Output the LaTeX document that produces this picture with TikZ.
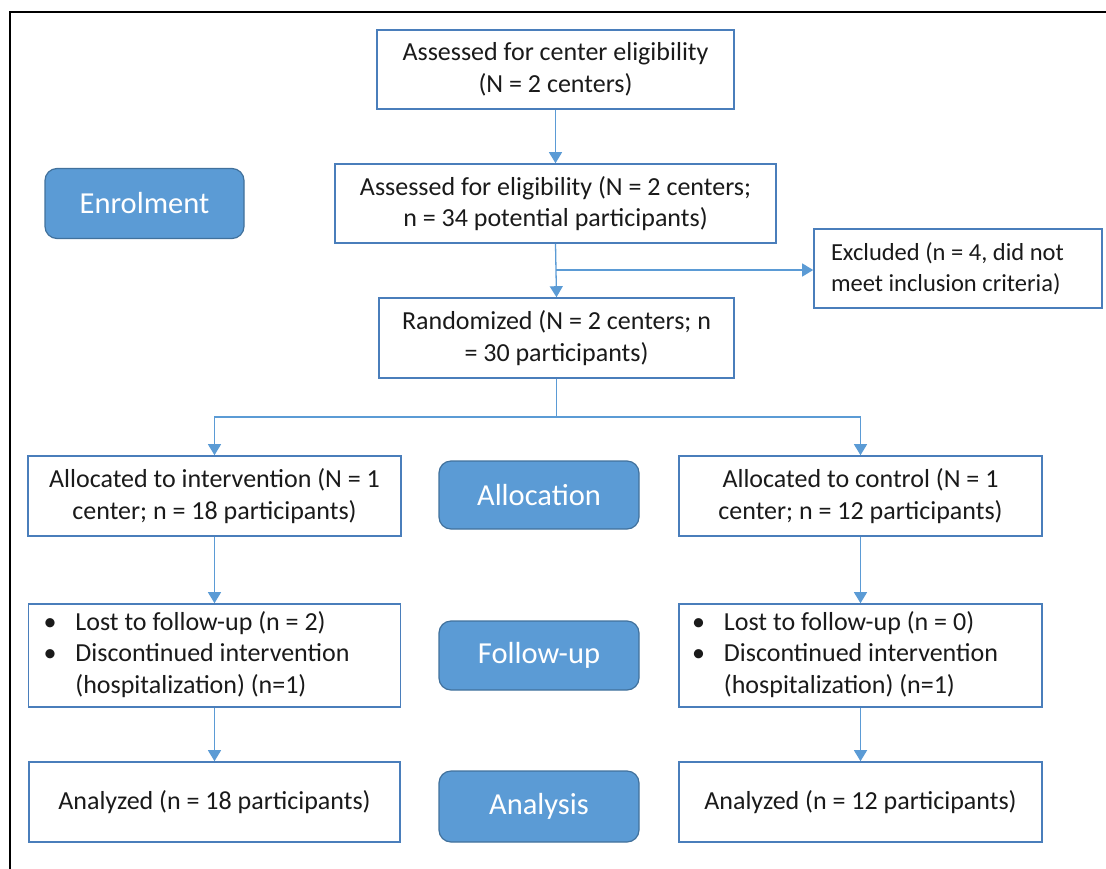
\documentclass[tikz,border=0pt]{standalone}
\usepackage{fontspec}
\setmainfont{Carlito}
\usetikzlibrary{arrows.meta}
\definecolor{boxline}{HTML}{4A7EBB}
\definecolor{conn}{HTML}{5B9BD5}
\definecolor{btnfill}{HTML}{5B9BD5}
\definecolor{btnline}{HTML}{41719C}
\definecolor{txt}{HTML}{1A1A1A}
\begin{document}
\begin{tikzpicture}[x=1pt,y=-1pt,
  box/.style={draw=boxline,line width=1.6pt,fill=white,rectangle,align=center,
    text=txt,font=\fontsize{26}{31.5}\selectfont,inner sep=0pt},
  listbox/.style={draw=boxline,line width=1.6pt,fill=white,rectangle,align=flush left,
    text=txt,font=\fontsize{26}{31.5}\selectfont,inner ysep=0pt},
  btn/.style={draw=btnline,line width=1.2pt,fill=btnfill,rounded corners=12pt,
    text=white,font=\fontsize{30.5}{35}\selectfont,inner sep=0pt},
  conline/.style={draw=conn,line width=1.3pt},
  arr/.style={conline,-{Triangle[width=13pt,length=11pt]}}
]
\useasboundingbox (0,0) rectangle (1106,868);
% outer frame (top and left edges visible)
\draw[black,line width=1.6pt] (10,885) -- (10,12) -- (1120,12);

\node[box,minimum width=357pt,minimum height=79pt] (b1) at (555.5,69.5)
  {Assessed for center eligibility\\(N = 2 centers)};
\node[box,minimum width=441pt,minimum height=79pt] (b2) at (555.5,203.5)
  {Assessed for eligibility (N = 2 centers;\\n = 34 potential participants)};
\node[listbox,inner xsep=17pt,text width=254pt,minimum height=79pt,
  font=\fontsize{24.5}{31}\selectfont] (exc) at (958,268.5)
  {Excluded (n = 4, did not\\meet inclusion criteria)};
\node[box,minimum width=355pt,minimum height=80pt] (rand) at (556.5,338)
  {Randomized (N = 2 centers; n\\= 30 participants)};

\node[box,minimum width=373pt,minimum height=80pt] (la) at (214.5,496)
  {Allocated to intervention (N = 1\\center; n = 18 participants)};
\node[box,minimum width=363pt,minimum height=80pt] (ra) at (860.5,496)
  {Allocated to control (N = 1\\center; n = 12 participants)};

\node[listbox,inner xsep=15pt,text width=342pt,minimum height=103pt] (lf) at (214.5,655.5)
  {\begin{tabular}{@{}l@{\hspace{19pt}}l@{}}
   \textbullet & Lost to follow-up (n = 2)\\
   \textbullet & Discontinued intervention\\
    & (hospitalization) (n=1)
   \end{tabular}};
\node[listbox,inner xsep=13pt,text width=337pt,minimum height=103pt] (rf) at (860.5,655.5)
  {\begin{tabular}{@{}l@{\hspace{19pt}}l@{}}
   \textbullet & Lost to follow-up (n = 0)\\
   \textbullet & Discontinued intervention\\
    & (hospitalization) (n=1)
   \end{tabular}};

\node[box,minimum width=371pt,minimum height=80pt] (lan) at (214.5,802)
  {Analyzed (n = 18 participants)};
\node[box,minimum width=363pt,minimum height=80pt] (ran) at (860.5,802)
  {Analyzed (n = 12 participants)};

\node[btn,minimum width=199pt,minimum height=70pt] (enr) at (144.5,203.5) {Enrolment};
\node[btn,minimum width=200pt,minimum height=68pt] (alo) at (539,495) {Allocation};
\node[btn,minimum width=200pt,minimum height=69pt] (fu) at (539,655.5) {Follow-up};
\node[btn,minimum width=200pt,minimum height=71pt] (ana) at (539,806.5) {Analysis};

% connectors
\draw[arr] (b1.south) -- (b2.north);
\draw[arr] (b2.south) -- (rand.north);
\coordinate (j1) at (b2.south |- 0,270);
\draw[arr] (j1) -- (j1 -| exc.west);
\coordinate (j2) at (rand.south |- 0,417);
\draw[conline] (rand.south) -- (j2);
\draw[arr] (j2) -| (la.north);
\draw[arr] (j2) -| (ra.north);
\draw[arr] (la.south) -- (lf.north);
\draw[arr] (ra.south) -- (rf.north);
\draw[arr] (lf.south) -- (lan.north);
\draw[arr] (rf.south) -- (ran.north);
\end{tikzpicture}
\end{document}
